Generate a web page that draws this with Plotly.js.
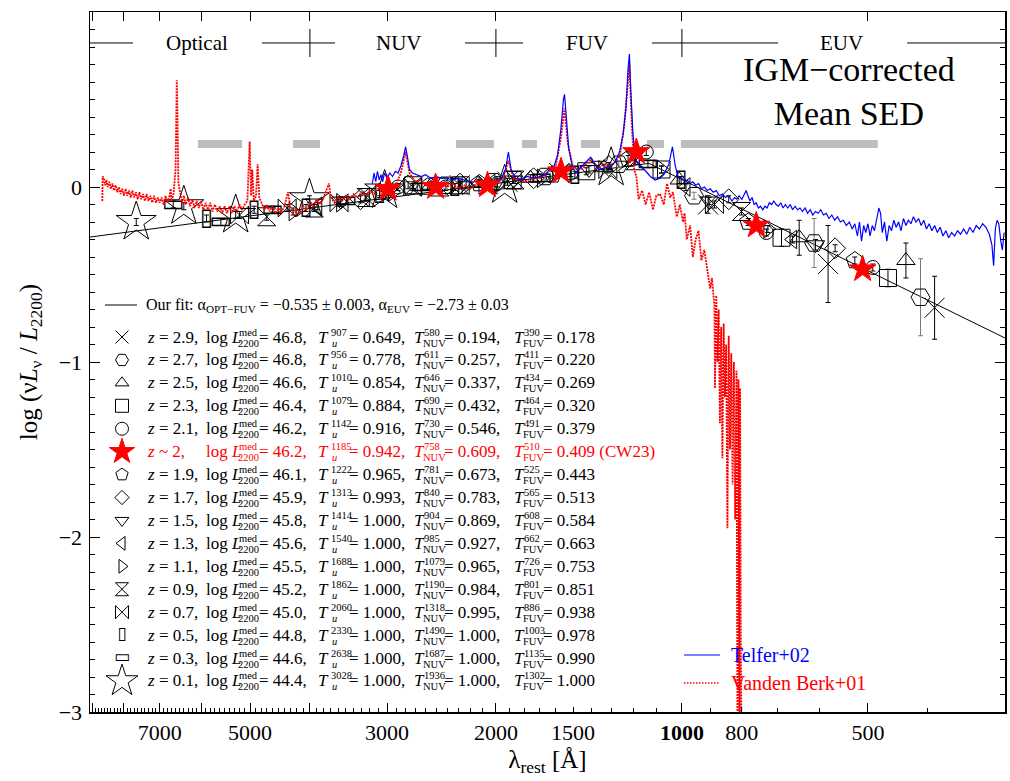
<!DOCTYPE html>
<html><head><meta charset="utf-8">
<script src="https://cdn.plot.ly/plotly-3.0.1.min.js"></script>
<style>html,body{margin:0;padding:0;background:#fff}#chart{width:1010px;height:781px}</style>
</head><body><div id="chart"></div>
<script>
// ---------------- DATA ----------------
const xTickVals = [7000, 5000, 3000, 2000, 1500, 1000, 800, 500];
const xTickText = ['7000', '5000', '3000', '2000', '1500', '<b>1000</b>', '800', '500'];
const xLongTicks = [9000, 8000, 7000, 6000, 5000, 4000, 3000, 2000, 1000, 500];
const yTickVals = [-3, -2, -1, 0, 1];

// Our fit (broken power law)
const fitLam = [9078, 1131, 300];
const fitY   = [-0.286, 0.135, -0.863];

// grey continuum windows
const grayLam = [6070, 5150, null, 4260, 3853, null, 2321, 2015, null, 1815, 1716, null, 1457, 1357, null, 1139, 1069, null, 1004, 482];
const grayY   = [0.246, 0.246, null, 0.246, 0.246, null, 0.246, 0.246, null, 0.246, 0.246, null, 0.246, 0.246, null, 0.246, 0.246, null, 0.246, 0.246];

// band annotation line
const bandLam = [9078, 7734, null, 4782, 3643, null, 2244, 1808, null, 1118, 699, null, 432, 300];
const bandY   = [0.823, 0.823, null, 0.823, 0.823, null, 0.823, 0.823, null, 0.823, 0.823, null, 0.823, 0.823];
const bandEdges = [4000, 2000, 1000];
const bandEdgeY = [0.823, 0.823, 0.823];
const bandNames = ['Optical', 'NUV', 'FUV', 'EUV'];
const bandNameLam = [6092, 2870, 1425, 551];

// Telfer+02 composite
const telLam = [3170,3150,3130,3110,3090,3070,3050,3030,3000,2970,2940,2910,2880,2850,2820,2800,2780,2760,2730,2690,2640,2600,2550,2500,2450,2400,2350,2300,2250,2200,2150,2100,2050,2000,1960,1930,1909,1890,1860,1820,1780,1740,1700,1660,1640,1610,1590,1570,1555,1549,1540,1525,1505,1485,1460,1430,1405,1385,1360,1330,1300,1280,1262,1245,1232,1222,1216,1210,1200,1190,1170,1150,1125,1105,1085,1070,1050,1036,1025,1015,
1000,990,980,970,960,950,940,930,920,910,900,890,880,870,860,850,840,830,822,815,808,800,793,787,782,776,770,764,758,752,746,740,734,728,722,716,710,704,698,692,686,680,674,668,662,656,650,644,638,632,626,620,614,608,602,596,590,584,578,572,566,560,554,548,542,536,530,525,520,516,512,508,504,500,496,492,488,484,480,477,474,470,466,462,458,454,450,446,442,438,434,430,426,422,418,414,410,406,402,398,394,390,386,382,378,374,370,366,362,358,354,350,346,342,338,334,330,326,322,318,315,313,311,309,307,305,303,301];
const telY = [0.02,0.08,0.03,0.09,0.04,0.07,0.03,0.08,0.05,0.08,0.06,0.09,0.08,0.12,0.18,0.23,0.17,0.10,0.08,0.07,0.06,0.07,0.05,0.06,0.05,0.05,0.04,0.05,0.04,0.03,0.03,0.02,0.03,0.03,0.05,0.10,0.20,0.10,0.05,0.04,0.06,0.05,0.06,0.07,0.10,0.12,0.18,0.33,0.50,0.53,0.42,0.22,0.12,0.08,0.11,0.14,0.17,0.13,0.10,0.11,0.12,0.15,0.20,0.30,0.45,0.68,0.76,0.55,0.30,0.16,0.12,0.10,0.06,0.04,0.05,0.07,0.13,0.23,0.12,0.06,
0.05,0.03,0.04,0.02,0.03,0.01,0.02,-0.01,0.00,-0.02,-0.01,-0.03,-0.02,-0.05,-0.04,-0.06,-0.05,-0.08,-0.06,-0.07,-0.05,-0.07,-0.04,-0.02,-0.05,-0.08,-0.06,-0.10,-0.09,-0.12,-0.11,-0.13,-0.11,-0.12,-0.09,-0.10,-0.08,-0.10,-0.11,-0.09,-0.12,-0.10,-0.12,-0.10,-0.13,-0.11,-0.13,-0.12,-0.14,-0.12,-0.15,-0.13,-0.16,-0.14,-0.15,-0.13,-0.16,-0.15,-0.18,-0.16,-0.19,-0.17,-0.20,-0.19,-0.22,-0.20,-0.24,-0.21,-0.28,-0.20,-0.31,-0.22,-0.26,-0.21,-0.28,-0.22,-0.25,-0.18,-0.12,-0.15,-0.26,-0.20,-0.31,-0.22,-0.25,-0.19,-0.23,-0.20,-0.25,-0.18,-0.22,-0.19,-0.21,-0.17,-0.20,-0.18,-0.22,-0.19,-0.24,-0.21,-0.25,-0.22,-0.26,-0.23,-0.28,-0.25,-0.29,-0.26,-0.28,-0.25,-0.27,-0.24,-0.27,-0.23,-0.26,-0.22,-0.24,-0.21,-0.23,-0.27,-0.33,-0.45,-0.24,-0.19,-0.21,-0.30,-0.36,-0.26];

// Vanden Berk+01 composite
const vbLam = [8670,8660,8620,8580,8540,8500,8450,8400,8350,8300,8250,8200,8150,8100,8050,8000,7950,7900,7850,7800,7750,7700,7650,7600,7550,7500,7450,7400,7350,7300,7250,7200,7150,7100,7050,7000,6950,6900,6850,6800,6750,6720,6700,6650,
6600,6570,6555,6530,
6480,6440,6400,6350,6300,6250,6200,6150,6100,6050,6000,5950,5900,5850,5800,5750,5700,5650,5600,5550,5500,5450,5400,5350,5300,5250,5200,5150,5100,5050,
5007,4980,4959,4930,4890,4861,4830,
4780,4740,4700,4650,4600,4550,4500,4450,4400,4340,4300,4250,4200,4150,4100,4050,4000,3950,3900,3850,3800,3760,3727,3700,
3650,3600,3550,3500,3450,3400,3350,3300,3250,3200,3150,3100,3050,3000,2950,2900,2850,2800,2760,2700,
2650,2600,2550,2500,2450,2400,2350,2300,2250,2200,2150,2100,2050,2000,1950,1909,1870,1830,1800,1750,1700,1640,1600,1570,1549,1530,1500,1460,1400,1370,1330,1300,1260,1240,1216,1205,1195,
1185,1175,1160,1145,1130,1114,1100,1085,1070,1057,1045,1034,1025,1019,1008,996,990,982,970,960,950,940,930,920,911,900,894,886,884,880,876,872,868,864,860,856,852,848,844,840,836,832,828,824,820,816,813,810,807,805,803,801];
const vbY = [-0.08,0.06,0.05,0.01,0.04,0.00,0.03,-0.01,0.02,-0.02,0.01,-0.03,0.00,-0.04,-0.01,-0.05,-0.01,-0.05,-0.02,-0.06,-0.02,-0.06,-0.03,-0.07,-0.03,-0.07,-0.04,-0.08,-0.04,-0.08,-0.05,-0.09,-0.05,-0.09,-0.06,-0.09,-0.06,-0.10,-0.05,-0.09,-0.05,-0.01,-0.08,-0.04,
0.10,0.61,0.45,0.02,
-0.04,-0.09,-0.05,-0.10,-0.06,-0.11,-0.07,-0.12,-0.08,-0.12,-0.08,-0.13,-0.09,-0.13,-0.09,-0.14,-0.10,-0.14,-0.11,-0.15,-0.11,-0.15,-0.11,-0.15,-0.11,-0.14,-0.10,-0.13,-0.10,-0.08,
0.26,-0.05,0.10,-0.08,-0.05,0.13,-0.06,
-0.10,-0.13,-0.10,-0.14,-0.11,-0.15,-0.12,-0.15,-0.11,-0.03,-0.12,-0.16,-0.13,-0.15,-0.11,-0.13,-0.09,-0.11,-0.07,-0.10,-0.06,-0.02,0.02,-0.06,
-0.09,-0.06,-0.08,-0.05,-0.07,-0.04,-0.06,-0.03,-0.05,-0.02,-0.04,-0.01,-0.03,0.00,-0.02,0.02,0.08,0.20,0.08,0.03,
0.04,0.01,0.03,0.00,0.02,0.00,0.02,-0.01,0.01,-0.01,0.02,0.00,0.02,0.02,0.05,0.15,0.04,0.05,0.03,0.05,0.05,0.09,0.12,0.28,0.45,0.25,0.11,0.10,0.16,0.11,0.13,0.12,0.18,0.35,0.70,0.35,0.10,
0.06,-0.07,-0.02,-0.10,-0.03,-0.13,-0.05,-0.04,-0.10,0.02,-0.06,-0.03,-0.12,-0.17,-0.10,-0.20,-0.15,-0.30,-0.22,-0.40,-0.30,-0.25,-0.42,-0.36,-0.46,-0.58,-0.52,-0.68,-1.15,-0.62,-1.00,-0.70,-1.35,-0.80,-1.55,-0.78,-1.20,-0.90,-1.95,-0.85,-1.50,-0.95,-1.70,-1.00,-1.90,-1.05,-3.10,-1.10,-3.10,-1.15,-2.60,-3.10];

// photometric mean SED points per redshift bin (rest wavelength, log nuLnu/L2200, error)
const lam29 = [390, 580, 907, 1201, 1580, 1916, 2289];
const sed29 = [-0.69, -0.44, -0.10, 0.17, 0.08, 0.03, 0.01];
const err29 = [0.18, 0.22, 0.05, 0.02, 0.02, 0.02, 0.02];
const lam27 = [411, 611, 956, 1265, 1665, 2020, 2412];
const sed27 = [-0.63, -0.32, -0.05, 0.13, 0.06, 0.03, 0.01];
const err27 = [0.22, 0.14, 0.02, 0.02, 0.02, 0.02, 0.02];
const lam25 = [434, 646, 1010, 1337, 1759, 2134, 2548];
const sed25 = [-0.42, -0.29, 0.04, 0.11, 0.05, 0.02, 0.01];
const err25 = [0.10, 0.10, 0.02, 0.02, 0.02, 0.02, 0.02];
const lam23 = [464, 690, 1079, 1428, 1879, 2280, 2722];
const sed23 = [-0.52, -0.29, 0.10, 0.09, 0.04, 0.01, 0.01];
const err23 = [0.05, 0.05, 0.02, 0.02, 0.02, 0.02, 0.02];
const lam21 = [491, 730, 1142, 1512, 1989, 2413, 2881];
const sed21 = [-0.46, -0.26, 0.20, 0.08, 0.02, 0.00, 0.00];
const err21 = [0.02, 0.02, 0.02, 0.02, 0.02, 0.02, 0.02];
const lam20 = [510, 758, 1185, 1569, 2064, 2504, 2990];
const sed20 = [-0.47, -0.22, 0.20, 0.09, 0.01, 0.00, -0.01];
const lam19 = [525, 781, 1222, 1618, 2128, 2582, 3083];
const sed19 = [-0.42, -0.20, 0.16, 0.07, 0.02, 0.00, -0.03];
const err19 = [0.02, 0.02, 0.02, 0.02, 0.02, 0.02, 0.02];
const lam17 = [565, 840, 1313, 1738, 2287, 2774, 3313];
const sed17 = [-0.35, -0.07, 0.12, 0.05, 0.02, 0.01, -0.07];
const err17 = [0.02, 0.02, 0.02, 0.02, 0.02, 0.02, 0.02];
const lam15 = [608, 904, 1414, 1871, 2463, 2988, 3568];
const sed15 = [-0.33, -0.08, 0.10, 0.04, 0.00, -0.03, -0.08];
const err15 = [0.03, 0.02, 0.02, 0.02, 0.02, 0.02, 0.02];
const lam13 = [662, 985, 1540, 2038, 2682, 3254, 3885];
const sed13 = [-0.30, 0.00, 0.08, 0.02, 0.00, -0.06, -0.11];
const err13 = [0.02, 0.02, 0.02, 0.02, 0.02, 0.02, 0.02];
const lam11 = [726, 1079, 1688, 2235, 2940, 3567, 4259];
const sed11 = [-0.24, 0.10, 0.05, 0.01, -0.03, -0.09, -0.14];
const err11 = [0.02, 0.02, 0.02, 0.02, 0.02, 0.02, 0.02];
const lam09 = [801, 1190, 1862, 2465, 3244, 3935, 4698];
const sed09 = [-0.14, 0.15, 0.04, 0.00, -0.06, -0.12, -0.17];
const err09 = [0.02, 0.02, 0.02, 0.02, 0.02, 0.02, 0.02];
const lam07 = [886, 1318, 2060, 2727, 3589, 4354, 5199];
const sed07 = [-0.10, 0.10, 0.01, 0.00, -0.09, -0.12, -0.16];
const err07 = [0.02, 0.02, 0.02, 0.02, 0.02, 0.02, 0.02];
const lam05 = [1003, 1490, 2330, 3085, 4059, 4924, 5880];
const sed05 = [0.04, 0.07, 0.00, -0.04, -0.12, -0.13, -0.18];
const err05 = [0.02, 0.02, 0.02, 0.02, 0.02, 0.02, 0.02];
const lam03 = [1135, 1687, 2638, 3492, 4595, 5574, 6656];
const sed03 = [0.13, 0.05, 0.00, -0.08, -0.13, -0.20, -0.10];
const err03 = [0.02, 0.02, 0.02, 0.02, 0.02, 0.02, 0.02];
const lam01 = [1302, 1936, 3028, 4008, 5275, 6399, 7641];
const sed01 = [0.11, 0.01, -0.02, -0.07, -0.16, -0.11, -0.20];
const err01 = [0.02, 0.02, 0.02, 0.02, 0.02, 0.02, 0.02];

// legend table values
const zLabels  = ['2.9','2.7','2.5','2.3','2.1','2','1.9','1.7','1.5','1.3','1.1','0.9','0.7','0.5','0.3','0.1'];
const logLmed  = ['46.8','46.8','46.6','46.4','46.2','46.2','46.1','45.9','45.8','45.6','45.5','45.2','45.0','44.8','44.6','44.4'];
const TuLam    = ['907','956','1010','1079','1142','1185','1222','1313','1414','1540','1688','1862','2060','2330','2638','3028'];
const TuVal    = ['0.649','0.778','0.854','0.884','0.916','0.942','0.965','0.993','1.000','1.000','1.000','1.000','1.000','1.000','1.000','1.000'];
const TnuvLam  = ['580','611','646','690','730','758','781','840','904','985','1079','1190','1318','1490','1687','1936'];
const TnuvVal  = ['0.194','0.257','0.337','0.432','0.546','0.609','0.673','0.783','0.869','0.927','0.965','0.984','0.995','1.000','1.000','1.000'];
const TfuvLam  = ['390','411','434','464','491','510','525','565','608','662','726','801','886','1003','1135','1302'];
const TfuvVal  = ['0.178','0.220','0.269','0.320','0.379','0.409','0.443','0.513','0.584','0.663','0.753','0.851','0.938','0.978','0.990','1.000'];

// ---------------- STYLE ----------------
const SERIF = 'Liberation Serif, Times New Roman, serif';
const RED = '#ff0000', BLUE = '#0000ff';
const series = [
  {lam: lam29, sed: sed29, err: err29, sym: 'x-thin-open', size: 20, key: 13},
  {lam: lam27, sed: sed27, err: err27, sym: 'hexagon2-open', size: 19, key: 13, ecol: '#777'},
  {lam: lam25, sed: sed25, err: err25, sym: 'triangle-up-open', size: 16, key: 12},
  {lam: lam23, sed: sed23, err: err23, sym: 'square-open', size: 17, key: 13},
  {lam: lam21, sed: sed21, err: err21, sym: 'circle-open', size: 14, key: 13},
  {lam: lam20, sed: sed20, err: null, sym: 'star', size: 20, key: 19, col: RED},
  {lam: lam19, sed: sed19, err: err19, sym: 'pentagon-open', size: 18, key: 13},
  {lam: lam17, sed: sed17, err: err17, sym: 'diamond-open', size: 16, key: 11},
  {lam: lam15, sed: sed15, err: err15, sym: 'triangle-down-open', size: 16, key: 12},
  {lam: lam13, sed: sed13, err: err13, sym: 'triangle-left-open', size: 16, key: 12},
  {lam: lam11, sed: sed11, err: err11, sym: 'triangle-right-open', size: 16, key: 12},
  {lam: lam09, sed: sed09, err: err09, sym: 'hourglass-open', size: 18, key: 13},
  {lam: lam07, sed: sed07, err: err07, sym: 'bowtie-open', size: 18, key: 13},
  {lam: lam05, sed: sed05, err: err05, glyph: '\u25AF', size: 24, key: 17},
  {lam: lam03, sed: sed03, err: err03, glyph: '\u25AD', size: 24, key: 17},
  {lam: lam01, sed: sed01, err: err01, sym: 'star-open', size: 30, key: 24}
];

function seriesTrace(s) {
  const col = s.col || 'black';
  const tr = {x: s.lam, y: s.sed};
  if (s.err) tr.error_y = {type: 'data', array: s.err, visible: true, color: s.ecol || 'black', thickness: 1, width: 2.5};
  if (s.glyph) {
    tr.mode = 'text';
    tr.text = s.lam.map(() => s.glyph);
    tr.textposition = 'middle center';
    tr.textfont = {family: 'DejaVu Sans', size: s.size, color: col};
  } else {
    tr.mode = 'markers';
    tr.marker = {symbol: s.sym, size: s.size, color: col, line: {width: 1, color: col}};
  }
  return tr;
}

const data = [];
data.push({x: grayLam, y: grayY, mode: 'lines', line: {color: '#bdbdbd', width: 8}, connectgaps: false});
data.push({x: fitLam, y: fitY, mode: 'lines', line: {color: 'black', width: 1}});
data.push({x: bandLam, y: bandY, mode: 'lines', line: {color: 'black', width: 1}, connectgaps: false});
data.push({x: bandEdges, y: bandEdgeY, mode: 'markers', marker: {symbol: 'line-ns-open', size: 20, color: 'black', line: {width: 1, color: 'black'}}});
// anchor traces for the long-tick axes (draw nothing)
data.push({x: [1000], y: [null], xaxis: 'x3', yaxis: 'y', mode: 'lines', line: {width: 0}});
data.push({x: [1000], y: [null], xaxis: 'x4', yaxis: 'y', mode: 'lines', line: {width: 0}});

// black symbol series first, then the composites, then the red stars
[15,14,13,12,11,10,9,8,7,6,4,3,2,1,0].forEach(i => data.push(seriesTrace(series[i])));
data.push({x: vbLam, y: vbY, mode: 'lines', line: {color: RED, width: 1.8, dash: '2px,1px'}});
data.push({x: telLam, y: telY, mode: 'lines', line: {color: BLUE, width: 1.2}});
data.push(seriesTrace(series[5]));

// ---------- legend (pixel-coordinate overlay axis) ----------
const rowY0 = 337, rowDY = 22.93, keyX = 122;
const rowY = zLabels.map((_, i) => rowY0 + rowDY * i);
data.push({x: [105, 137], y: [305, 305], xaxis: 'x2', yaxis: 'y2', mode: 'lines', line: {color: 'black', width: 1}});
data.push({x: [684, 720], y: [655, 655], xaxis: 'x2', yaxis: 'y2', mode: 'lines', line: {color: BLUE, width: 1.2}});
data.push({x: [684, 720], y: [683, 683], xaxis: 'x2', yaxis: 'y2', mode: 'lines', line: {color: RED, width: 1.6, dash: '1.5px,1.5px'}});
series.forEach((s, i) => {
  const col = s.col || 'black';
  const tr = {x: [keyX], y: [rowY[i]], xaxis: 'x2', yaxis: 'y2'};
  if (s.glyph) {
    tr.mode = 'text'; tr.text = [s.glyph]; tr.textposition = 'middle center';
    tr.textfont = {family: 'DejaVu Sans', size: s.key, color: col};
  } else {
    tr.mode = 'markers';
    tr.marker = {symbol: s.sym, size: s.key, color: col, line: {width: 1, color: col}};
  }
  data.push(tr);
});

const ann = [];
function A(x, y, text, size, color, xanchor) {
  ann.push({xref: 'x2', yref: 'y2', x: x, y: y, text: text, showarrow: false,
    xanchor: xanchor || 'left', yanchor: 'middle', borderpad: 0,
    font: {family: SERIF, size: size, color: color || 'black'}});
}
const FS = 17, SS = 10.5;
A(145, 305, 'Our fit: α<sub>OPT−FUV</sub> = −0.535 ± 0.003, α<sub>EUV</sub> = −2.73 ± 0.03', 16);
zLabels.forEach((z, i) => {
  const y = rowY[i];
  const c = (i === 5) ? RED : 'black';
  A(146, y, '<i>z</i> ' + (i === 5 ? '~' : '=') + ' ' + z + ',', FS, c);
  A(205, y, 'log <i>L</i>', FS, c);
  A(238, y - 5, 'med', SS, c);
  A(237, y + 6, '2200', SS, c);
  A(258, y, '= ' + logLmed[i] + ',', FS, c);
  A(317, y, '<i>T</i>', FS, c);
  A(330, y - 5, TuLam[i], SS, c);
  A(331, y + 6, '<i>u</i>', SS, c);
  A(348, y, '= ' + TuVal[i] + ',', FS, c);
  A(413, y, '<i>T</i>', FS, c);
  A(423, y - 5, TnuvLam[i], SS, c);
  A(422, y + 6, 'NUV', SS, c);
  A(443, y, '= ' + TnuvVal[i] + ',', FS, c);
  A(513, y, '<i>T</i>', FS, c);
  A(523, y - 5, TfuvLam[i], SS, c);
  A(522, y + 6, 'FUV', SS, c);
  A(542, y, '= ' + TfuvVal[i] + (i === 5 ? ' (CW23)' : ''), FS, c);
});
A(730, 655, 'Telfer+02', 20, BLUE);
A(730, 683, 'Vanden Berk+01', 20, RED);
A(849, 91, 'IGM−corrected<br>Mean SED', 34, 'black', 'center');

bandNames.forEach((n, i) => {
  ann.push({xref: 'x', yref: 'y', x: Math.log10(bandNameLam[i]), y: bandY[0], text: n, showarrow: false,
    xanchor: 'center', yanchor: 'middle', font: {family: SERIF, size: 21, color: 'black'}});
});

const minorX = [];
for (let v = 300; v <= 9000; v += 100) minorX.push(v);
const xRange = [Math.log10(9078), Math.log10(300)];

const longTickAxis = (side) => ({
  overlaying: 'x', anchor: 'y', side: side, type: 'log', range: xRange,
  tickmode: 'array', tickvals: xLongTicks, showticklabels: false,
  ticks: 'inside', ticklen: 9, tickwidth: 1, tickcolor: 'black',
  showline: false, showgrid: false, zeroline: false
});

const layout = {
  width: 1010, height: 781,
  margin: {l: 90, r: 5, t: 12, b: 69},
  paper_bgcolor: 'white', plot_bgcolor: 'white',
  showlegend: false,
  font: {family: SERIF, color: 'black'},
  xaxis: {
    type: 'log', range: xRange,
    tickmode: 'array', tickvals: xTickVals, ticktext: xTickText,
    ticks: 'inside', ticklen: 5, tickwidth: 1, tickcolor: 'black',
    showline: true, linecolor: 'black', linewidth: 1.5, mirror: true,
    showgrid: false, zeroline: false,
    tickfont: {family: SERIF, size: 22, color: 'black'}, ticklabelstandoff: 0,
    minor: {tickmode: 'array', tickvals: minorX, ticks: 'inside', ticklen: 4, tickwidth: 1, tickcolor: 'black', showgrid: false},
    title: {text: 'λ<sub>rest</sub> [Å]', font: {family: SERIF, size: 25, color: 'black'}, standoff: 6}
  },
  xaxis3: longTickAxis('top'),
  xaxis4: longTickAxis('bottom'),
  yaxis: {
    range: [-3, 1], tickmode: 'array', tickvals: yTickVals,
    ticks: 'inside', ticklen: 10, tickwidth: 1, tickcolor: 'black',
    showline: true, linecolor: 'black', linewidth: 1.5, mirror: 'ticks',
    showgrid: false, zeroline: false,
    tickfont: {family: SERIF, size: 22, color: 'black'}, ticklabelstandoff: 2,
    minor: {dtick: 0.1, ticks: 'inside', ticklen: 5, tickwidth: 1, tickcolor: 'black', showgrid: false},
    title: {text: 'log (ν<i>L</i><sub>ν</sub> / <i>L</i><sub>2200</sub>)', font: {family: SERIF, size: 25, color: 'black'}, standoff: 14}
  },
  xaxis2: {overlaying: 'x', range: [90, 1005], visible: false, showgrid: false, zeroline: false},
  yaxis2: {overlaying: 'y', range: [712, 12], visible: false, showgrid: false, zeroline: false},
  annotations: ann
};

Plotly.newPlot('chart', data, layout, {staticPlot: true, displayModeBar: false});
</script></body></html>
